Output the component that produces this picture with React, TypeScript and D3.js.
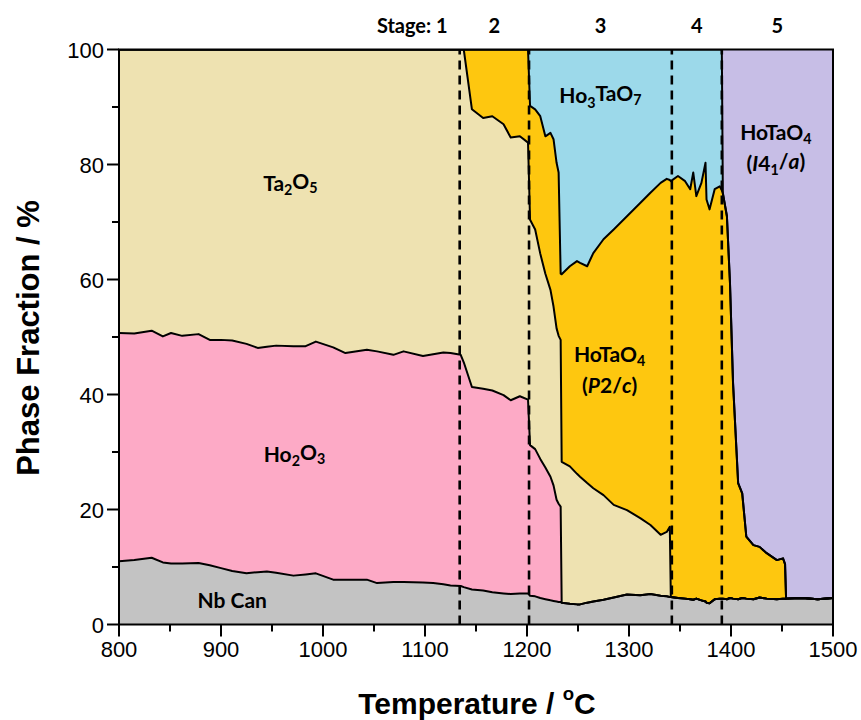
import React from 'react';
import * as d3 from 'd3';

const temps = [
  800, 815, 832, 843, 851, 862, 878, 889, 900, 911,
  925, 936, 945, 954, 971, 983, 993, 1010, 1022, 1043,
  1053, 1069, 1079, 1098, 1108, 1118, 1125, 1135, 1138, 1146,
  1157, 1166, 1177, 1184, 1193, 1201, 1203, 1208, 1213, 1218,
  1223, 1226, 1229, 1231, 1233, 1234, 1242, 1249, 1252, 1259,
  1265, 1275, 1285, 1298, 1311, 1321, 1331, 1337, 1340, 1341,
  1348, 1355, 1360, 1363, 1366, 1371, 1375, 1376, 1379, 1384,
  1389, 1391, 1392, 1396, 1399, 1402, 1407, 1411, 1415, 1422,
  1428, 1435, 1445, 1451, 1453, 1454, 1470, 1485, 1500,
];

const nbCan = [
  11.0, 11.2, 11.6, 10.8, 10.6, 10.6, 10.7, 10.3, 9.8, 9.3,
  8.9, 9.1, 9.2, 9.0, 8.5, 8.7, 8.9, 7.8, 7.8, 7.8,
  7.2, 7.4, 7.4, 7.3, 7.2, 7.0, 6.8, 6.7, 6.5, 6.1,
  5.9, 5.6, 5.4, 5.3, 5.4, 5.4, 5.0, 4.9, 4.6, 4.4,
  4.2, 4.1, 4.0, 3.9, 3.9, 3.8, 3.6, 3.5, 3.5, 3.8,
  4.0, 4.3, 4.7, 5.2, 5.1, 5.3, 5.0, 4.9, 4.8, 4.8,
  4.6, 4.5, 4.4, 4.3, 4.5, 4.2, 4.0, 3.8, 3.7, 4.4,
  4.5, 4.5, 4.5, 4.4, 4.6, 4.5, 4.4, 4.6, 4.5, 4.4,
  4.7, 4.5, 4.4, 4.5, 4.5, 4.5, 4.6, 4.4, 4.6,
];

const ho2o3 = [
  39.7, 39.4, 39.5, 39.3, 40.1, 39.6, 39.8, 39.2, 39.7, 40.1,
  39.9, 39.0, 39.1, 39.5, 39.9, 39.7, 40.3, 40.4, 39.4, 40.0,
  40.3, 39.5, 40.1, 39.4, 39.8, 40.3, 40.4, 40.2, 39.1, 35.2,
  35.1, 35.1, 34.5, 33.7, 34.3, 33.7, 26.2, 25.6, 24.2, 22.9,
  21.5, 20.1, 17.7, 17.1, 16.6, 0, 0, 0, 0, 0,
  0, 0, 0, 0, 0, 0, 0, 0, 0, 0,
  0, 0, 0, 0, 0, 0, 0, 0, 0, 0,
  0, 0, 0, 0, 0, 0, 0, 0, 0, 0,
  0, 0, 0, 0, 0, 0, 0, 0, 0,
];

const ta2o5 = [
  49.3, 49.4, 48.9, 49.9, 49.3, 49.8, 49.5, 50.5, 50.5, 50.6,
  51.2, 51.9, 51.7, 51.5, 51.6, 51.6, 50.8, 51.8, 52.8, 52.2,
  52.5, 53.1, 52.5, 53.3, 53.0, 52.7, 52.8, 53.1, 54.4, 48.3,
  47.1, 47.7, 47.1, 45.7, 45.2, 44.7, 39.2, 38.2, 35.7, 33.7,
  32.5, 31.1, 29.8, 29.2, 29.0, 24.5, 23.9, 22.7, 22.2, 20.8,
  19.7, 18.2, 16.1, 14.7, 13.4, 12.0, 10.6, 11.2, 12.2, 0,
  0, 0, 0, 0, 0, 0, 0, 0, 0, 0,
  0, 0, 0, 0, 0, 0, 0, 0, 0, 0,
  0, 0, 0, 0, 0, 0, 0, 0, 0,
];

const hoTaO4Mono = [
  0, 0, 0, 0, 0, 0, 0, 0, 0, 0,
  0, 0, 0, 0, 0, 0, 0, 0, 0, 0,
  0, 0, 0, 0, 0, 0, 0, 0, 0, 10.4,
  11.9, 11.6, 13.0, 15.3, 15.1, 16.2, 19.8, 20.9, 23.9, 23.9,
  27.3, 29.1, 28.8, 28.4, 11.5, 32.6, 34.8, 37.0, 37.2, 37.7,
  40.9, 44.5, 47.9, 51.1, 54.8, 57.8, 61.2, 61.4, 60.3, 72.3,
  73.4, 72.6, 71.3, 74.3, 70.0, 72.6, 76.3, 70.1, 68.5, 71.3,
  71.7, 71.0, 70.5, 66.6, 54.8, 37.5, 20.2, 18.2, 10.8, 9.4,
  8.8, 7.9, 6.8, 7.0, 6.0, 0, 0, 0, 0,
];

const ho3TaO7 = [
  0, 0, 0, 0, 0, 0, 0, 0, 0, 0,
  0, 0, 0, 0, 0, 0, 0, 0, 0, 0,
  0, 0, 0, 0, 0, 0, 0, 0, 0, 0,
  0, 0, 0, 0, 0, 0, 9.8, 10.4, 11.6, 15.1,
  14.5, 15.6, 19.7, 21.4, 39.0, 39.1, 37.7, 36.8, 37.1, 37.7,
  35.4, 33.0, 31.3, 29.0, 26.7, 24.9, 23.2, 22.5, 22.7, 22.9,
  22.0, 22.9, 24.3, 21.4, 25.5, 23.2, 19.7, 26.1, 27.8, 24.3,
  23.8, 24.5, 0, 0, 0, 0, 0, 0, 0, 0,
  0, 0, 0, 0, 0, 0, 0, 0, 0,
];

const hoTaO4Tetra = [
  0, 0, 0, 0, 0, 0, 0, 0, 0, 0,
  0, 0, 0, 0, 0, 0, 0, 0, 0, 0,
  0, 0, 0, 0, 0, 0, 0, 0, 0, 0,
  0, 0, 0, 0, 0, 0, 0, 0, 0, 0,
  0, 0, 0, 0, 0, 0, 0, 0, 0, 0,
  0, 0, 0, 0, 0, 0, 0, 0, 0, 0,
  0, 0, 0, 0, 0, 0, 0, 0, 0, 0,
  0, 0, 25.0, 29.0, 40.6, 58.0, 75.4, 77.2, 84.7, 86.2,
  86.5, 87.6, 88.8, 88.5, 89.5, 95.5, 95.4, 95.6, 95.4,
];

const phaseKeys = ['nbCan', 'ho2o3', 'ta2o5', 'hoTaO4Mono', 'ho3TaO7', 'hoTaO4Tetra'];
const phaseSeries = [nbCan, ho2o3, ta2o5, hoTaO4Mono, ho3TaO7, hoTaO4Tetra];
const phaseColors = ['#c3c3c3', '#fdaac6', '#eee2b1', '#fec70f', '#9cd9ea', '#c7bee6'];

const xMajorTicks = [800, 900, 1000, 1100, 1200, 1300, 1400, 1500];
const xMinorTicks = [850, 950, 1050, 1150, 1250, 1350, 1450];
const yMajorTicks = [0, 20, 40, 60, 80, 100];
const yMinorTicks = [10, 30, 50, 70, 90];
const stageBounds = [1134, 1202, 1342, 1391];
const stageLabels = ['Stage: 1', '2', '3', '4', '5'];

const W = 861;
const H = 720;
const M = { left: 119, right: 833, top: 49.5, bottom: 624.5 };

export default function App() {
  const x = d3.scaleLinear().domain([800, 1500]).range([M.left, M.right]);
  const y = d3.scaleLinear().domain([0, 100]).range([M.bottom, M.top]);

  const rows = temps.map((t, i) => {
    const r: any = { t };
    phaseKeys.forEach((k, j) => (r[k] = phaseSeries[j][i]));
    return r;
  });
  const stacked = d3.stack().keys(phaseKeys)(rows as any);

  const area = d3
    .area<any>()
    .x((d: any) => x(d.data.t))
    .y0((d: any) => y(d[0]))
    .y1((d: any) => y(Math.min(100, d[1])));
  const line = d3
    .line<any>()
    .x((d: any) => x(d.data.t))
    .y((d: any) => y(Math.min(100, d[1])));

  const lblFont = 'Lato, "Open Sans", sans-serif';
  const axFont = '"Liberation Sans", Arial, sans-serif';
  const sub = { fontSize: '0.68em' };

  const stageX = [M.left, ...stageBounds.map((b) => x(b)), M.right];

  return (
    <svg
      width={W}
      height={H}
      style={{ position: 'absolute', left: 0, top: 0, background: '#fff' }}
    >
      <defs>
        <clipPath id="plotClip">
          <rect x={M.left} y={M.top} width={M.right - M.left} height={M.bottom - M.top} />
        </clipPath>
      </defs>
      <g clipPath="url(#plotClip)">
        {stacked.map((s: any, i: number) => (
          <path key={'a' + i} d={area(s) || ''} fill={phaseColors[i]} stroke={phaseColors[i]} strokeWidth={0.5} />
        ))}
        {stacked.slice(0, 5).map((s: any, i: number) => (
          <path
            key={'l' + i}
            d={line(s) || ''}
            fill="none"
            stroke="#000"
            strokeWidth={2}
            strokeLinejoin="round"
          />
        ))}
        {stageBounds.map((b, i) => (
          <line
            key={'d' + i}
            x1={x(b)}
            x2={x(b)}
            y1={y(0)}
            y2={y(100)}
            stroke="#000"
            strokeWidth={2.6}
            strokeDasharray="9,6"
          />
        ))}
      </g>

      <rect
        x={M.left}
        y={M.top}
        width={M.right - M.left}
        height={M.bottom - M.top}
        fill="none"
        stroke="#000"
        strokeWidth={2}
      />

      {xMajorTicks.map((t) => (
        <g key={'xt' + t}>
          <line x1={x(t)} x2={x(t)} y1={M.bottom} y2={M.bottom + 12} stroke="#000" strokeWidth={2} />
          <text x={x(t)} y={M.bottom + 32} textAnchor="middle" fontFamily={axFont} fontSize={22}>
            {t}
          </text>
        </g>
      ))}
      {xMinorTicks.map((t) => (
        <line key={'xm' + t} x1={x(t)} x2={x(t)} y1={M.bottom} y2={M.bottom + 7} stroke="#000" strokeWidth={2} />
      ))}
      {yMajorTicks.map((t) => (
        <g key={'yt' + t}>
          <line x1={M.left - 12} x2={M.left} y1={y(t)} y2={y(t)} stroke="#000" strokeWidth={2} />
          <text x={M.left - 15} y={y(t) + 8} textAnchor="end" fontFamily={axFont} fontSize={22}>
            {t}
          </text>
        </g>
      ))}
      {yMinorTicks.map((t) => (
        <line key={'ym' + t} x1={M.left - 7} x2={M.left} y1={y(t)} y2={y(t)} stroke="#000" strokeWidth={2} />
      ))}

      <text
        transform={`translate(39,${(M.top + M.bottom) / 2 + 1}) rotate(-90)`}
        textAnchor="middle"
        fontFamily={axFont}
        fontWeight="bold"
        fontSize={31}
      >
        Phase Fraction / %
      </text>
      <text x={477} y={714} textAnchor="middle" fontFamily={axFont} fontWeight="bold" fontSize={30}>
        Temperature /{' '}
        <tspan fontSize="0.62em" dy="-0.75em">o</tspan>
        <tspan dy="0.47em">C</tspan>
      </text>

      {stageLabels.map((s, i) => {
        const first = i === 0;
        const xx = first ? stageX[1] - 12 : (stageX[i] + stageX[i + 1]) / 2;
        return (
          <text
            key={'s' + i}
            x={xx}
            y={33}
            textAnchor={first ? 'end' : 'middle'}
            fontFamily={lblFont}
            fontWeight="bold"
            fontSize={20}
          >
            {s}
          </text>
        );
      })}

      <g fontFamily={lblFont} fontWeight="bold" fontSize={21} textAnchor="middle" fill="#000">
        <text x={x(968)} y={y(76.4) + 6}>
          Ta<tspan {...sub} dy="0.3em">2</tspan>
          <tspan dy="-0.3em">O</tspan>
          <tspan {...sub} dy="0.3em">5</tspan>
        </text>
        <text x={x(972)} y={y(29.3) + 6}>
          Ho<tspan {...sub} dy="0.3em">2</tspan>
          <tspan dy="-0.3em">O</tspan>
          <tspan {...sub} dy="0.3em">3</tspan>
        </text>
        <text x={x(911)} y={y(4.1) + 7}>Nb Can</text>
        <text x={x(1272)} y={y(91.7) + 6}>
          Ho<tspan {...sub} dy="0.3em">3</tspan>
          <tspan dy="-0.3em">TaO</tspan>
          <tspan {...sub} dy="0.3em">7</tspan>
        </text>
        <text x={x(1281)} y={y(46.7) + 6}>
          HoTaO<tspan {...sub} dy="0.3em">4</tspan>
        </text>
        <text x={x(1281)} y={y(41.4) + 7}>
          (<tspan fontStyle="italic">P</tspan>2/<tspan fontStyle="italic">c</tspan>)
        </text>
        <text x={x(1444)} y={y(85.3) + 6}>
          HoTaO<tspan {...sub} dy="0.3em">4</tspan>
        </text>
        <text x={x(1444)} y={y(80.1) + 7}>
          (<tspan fontStyle="italic">I</tspan>4<tspan {...sub} dy="0.3em">1</tspan>
          <tspan dy="-0.3em">/</tspan>
          <tspan fontStyle="italic">a</tspan>)
        </text>
      </g>
    </svg>
  );
}
